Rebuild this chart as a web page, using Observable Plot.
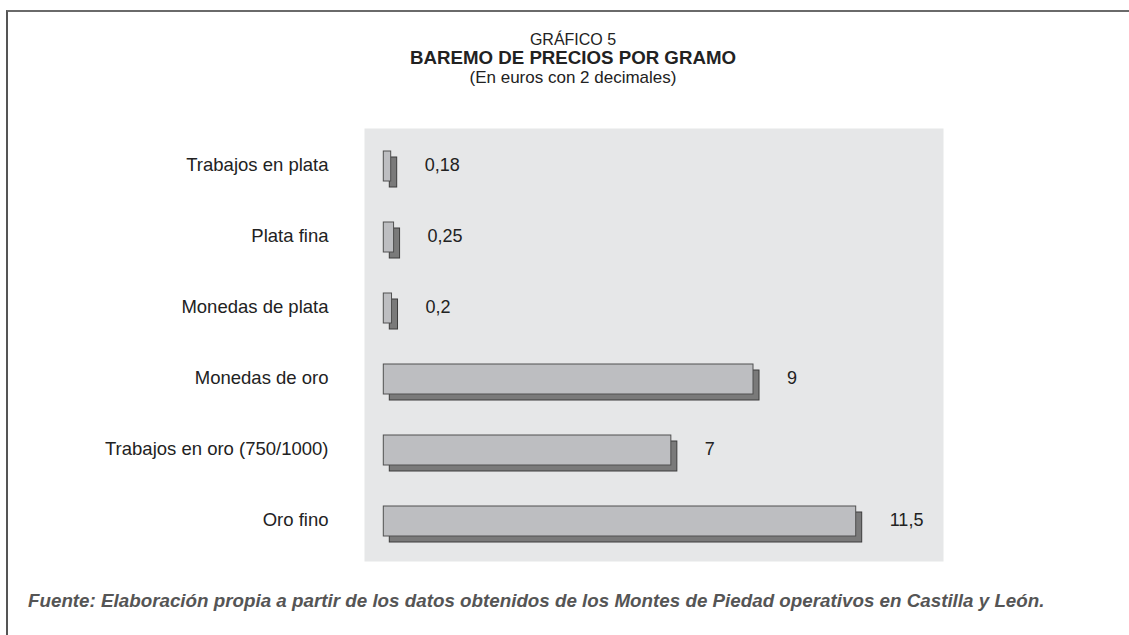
<!DOCTYPE html>
<html>
<head>
<meta charset="utf-8">
<script src="https://cdn.jsdelivr.net/npm/d3@7"></script>
<script src="https://cdn.jsdelivr.net/npm/@observablehq/plot@0.6"></script>
<style>
  html, body { margin: 0; padding: 0; background: #fff; }
  body { font-family: "Liberation Sans", Arial, Helvetica, sans-serif; }
  #page { position: relative; width: 1129px; height: 635px; overflow: hidden; background: #fff; }
  #border { position: absolute; left: 6px; top: 10px; width: 1200px; height: 700px;
            border-top: 2px solid #6a6a6a; border-left: 2px solid #555; }
  .t { position: absolute; left: 0; width: 1146px; text-align: center; line-height: 1; color: #222; white-space: nowrap; }
  #t1 { top: 31.5px; font-size: 16px; }
  #t2 { top: 48.5px; font-size: 18.7px; font-weight: bold; }
  #t3 { top: 69.3px; font-size: 17px; }
  #chart { position: absolute; left: 0; top: 100px; }
  #caption { position: absolute; left: 28px; top: 592px; font-size: 18.8px; line-height: 1; font-weight: bold;
             font-style: italic; color: #555; white-space: nowrap; }
</style>
</head>
<body>
<div id="page">
  <div id="border"></div>
  <div class="t" id="t1">GRÁFICO 5</div>
  <div class="t" id="t2">BAREMO DE PRECIOS POR GRAMO</div>
  <div class="t" id="t3">(En euros con 2 decimales)</div>
  <div id="chart"></div>
  <div id="caption">Fuente: Elaboración propia a partir de los datos obtenidos de los Montes de Piedad operativos en Castilla y León.</div>
</div>
<script>
const categories = ["Trabajos en plata", "Plata fina", "Monedas de plata", "Monedas de oro", "Trabajos en oro (750/1000)", "Oro fino"];
const values = [0.18, 0.25, 0.2, 9, 7, 11.5];
const valueLabels = ["0,18", "0,25", "0,2", "9", "7", "11,5"];

const data = categories.map((c, i) => ({category: c, value: values[i], label: valueLabels[i]}));

const chart = Plot.plot({
  width: 1129,
  height: 480,
  marginLeft: 364,
  marginRight: 186,
  marginTop: 28,
  marginBottom: 21.4,
  style: {fontFamily: '"Liberation Sans", Arial, sans-serif', color: "#222", background: "transparent", overflow: "visible"},
  x: {domain: [0, 11.5], range: [383.3, 855.7], axis: null},
  y: {domain: categories, paddingInner: 0.582, paddingOuter: 0.291, axis: null},
  marks: [
    Plot.frame({fill: "#e6e7e8", stroke: "none", insetBottom: -2.4}),
    Plot.axisY({tickSize: 0, tickPadding: 36, fontSize: 18.5, label: null, dy: -1}),
    Plot.barX(data, {x: "value", y: "category", fill: "#7a7a7a", stroke: "#3c3c3c", strokeWidth: 1, dx: 6, dy: 6}),
    Plot.barX(data, {x: "value", y: "category", fill: "#bdbec1", stroke: "#505050", strokeWidth: 1}),
    Plot.text(data, {x: "value", y: "category", text: "label", dx: 33.5, dy: -1, textAnchor: "start", fontSize: 18, fill: "#222"})
  ]
});
document.getElementById("chart").appendChild(chart);
</script>
</body>
</html>
